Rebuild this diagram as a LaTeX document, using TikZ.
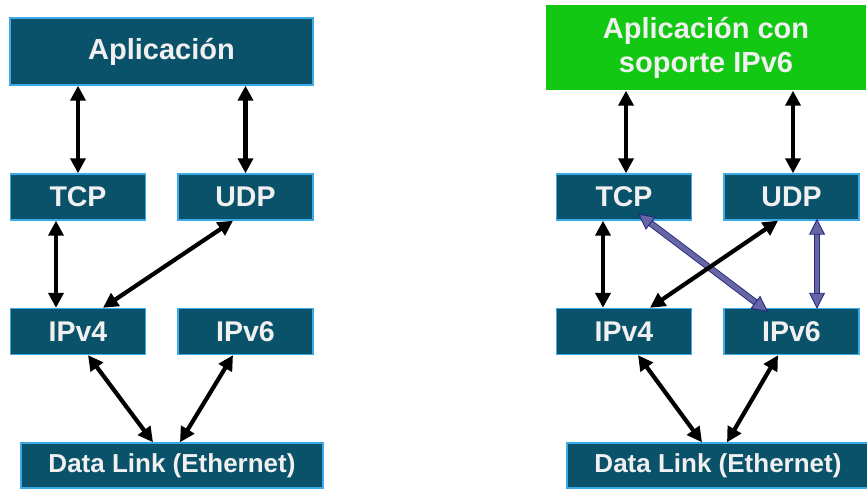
\documentclass[tikz,border=0pt]{standalone}
\usepackage{fontspec}
\newfontfamily\lblfont{Liberation Sans}
\usetikzlibrary{arrows.meta}
\definecolor{boxfill}{RGB}{10,82,106}
\definecolor{boxedge}{RGB}{60,170,230}
\definecolor{appgreen}{RGB}{18,200,18}
\definecolor{txt}{RGB}{240,240,240}
\definecolor{viofill}{RGB}{102,102,162}
\definecolor{vioedge}{RGB}{40,40,130}
\tikzset{
  layer/.style={draw=boxedge, line width=1.4pt, fill=boxfill, text=txt,
    font=\lblfont\bfseries\fontsize{28.5}{30}\selectfont, inner sep=0pt},
  small/.style={layer, minimum width=135pt, minimum height=46pt},
  link/.style={layer, minimum width=302pt, minimum height=45pt,
    font=\lblfont\bfseries\fontsize{26}{28}\selectfont},
  app/.style={layer, font=\lblfont\bfseries\fontsize{29}{34}\selectfont, align=center},
  both/.style={line width=4.2pt, black,
    {Triangle[length=15pt,width=15pt]}-{Triangle[length=15pt,width=15pt]}},
  vioshaft/.style={line width=6.6pt, vioedge},
  vio/.style={line width=4.8pt, viofill,
    {Triangle[length=16pt,width=16pt,fill=viofill,color=vioedge,line width=0.9pt]}-{Triangle[length=16pt,width=16pt,fill=viofill,color=vioedge,line width=0.9pt]}},
}
\begin{document}
\begin{tikzpicture}[x=1pt,y=-1pt]
\useasboundingbox (0,0) rectangle (867,494);
\clip (0,0) rectangle (867,494);

% ---------- IPv4-only stack ----------
\node[app, minimum width=303pt, minimum height=67pt] (appL) at (161.5,51.5) {Aplicación};
\node[small] (tcpL) at (78,197) {TCP};
\node[small] (udpL) at (245.5,197) {UDP};
\node[small] (v4L) at (78,331.5) {IPv4};
\node[small] (v6L) at (245.5,331.5) {IPv6};
\node[link] (dlL) at (172,465.5) {Data Link (Ethernet)};

\draw[both] (tcpL.north |- appL.south) -- (tcpL.north);
\draw[both] (udpL.north |- appL.south) -- (udpL.north);
\draw[both] ([xshift=-22pt]tcpL.south) -- ([xshift=-22pt]v4L.north);
\draw[both] ([xshift=-12.5pt]udpL.south) -- ([xshift=25pt]v4L.north);
\draw[both] ([xshift=10pt]v4L.south) -- ([xshift=-19pt]dlL.north);
\draw[both] ([xshift=-12.5pt]v6L.south) -- ([xshift=8pt]dlL.north);

% ---------- dual stack ----------
\node[app, fill=appgreen, draw=none, minimum width=320pt, minimum height=85pt] (appR) at (706,47.5) {Aplicación con\\soporte IPv6};
\node[small] (tcpR) at (624,197) {TCP};
\node[small] (udpR) at (791.5,197) {UDP};
\node[small] (v4R) at (624,331.5) {IPv4};
\node[small] (v6R) at (791.5,331.5) {IPv6};
\node[link] (dlR) at (718,465.5) {Data Link (Ethernet)};

% IPv6 paths
\draw[vioshaft, shorten <=13pt, shorten >=13pt] ([xshift=14pt,yshift=7pt]tcpR.south) -- ([xshift=-23.5pt,yshift=-4pt]v6R.north);
\draw[vio] ([xshift=14pt,yshift=7pt]tcpR.south) -- ([xshift=-23.5pt,yshift=-4pt]v6R.north);
\draw[vioshaft, shorten <=13pt, shorten >=13pt] ([xshift=25.5pt,yshift=2pt]udpR.south) -- ([xshift=25.5pt,yshift=-1pt]v6R.north);
\draw[vio] ([xshift=25.5pt,yshift=2pt]udpR.south) -- ([xshift=25.5pt,yshift=-1pt]v6R.north);

\draw[both] ([xshift=2pt]tcpR.north |- appR.south) -- ([xshift=2pt]tcpR.north);
\draw[both] ([xshift=1.5pt]udpR.north |- appR.south) -- ([xshift=1.5pt]udpR.north);
\draw[both] ([xshift=-21pt]tcpR.south) -- ([xshift=-21pt]v4R.north);
\draw[both] ([xshift=-13.5pt]udpR.south) -- ([xshift=26pt]v4R.north);
\draw[both] ([xshift=14pt]v4R.south) -- ([xshift=-16pt]dlR.north);
\draw[both] ([xshift=-13.5pt]v6R.south) -- ([xshift=9pt]dlR.north);
\end{tikzpicture}
\end{document}
